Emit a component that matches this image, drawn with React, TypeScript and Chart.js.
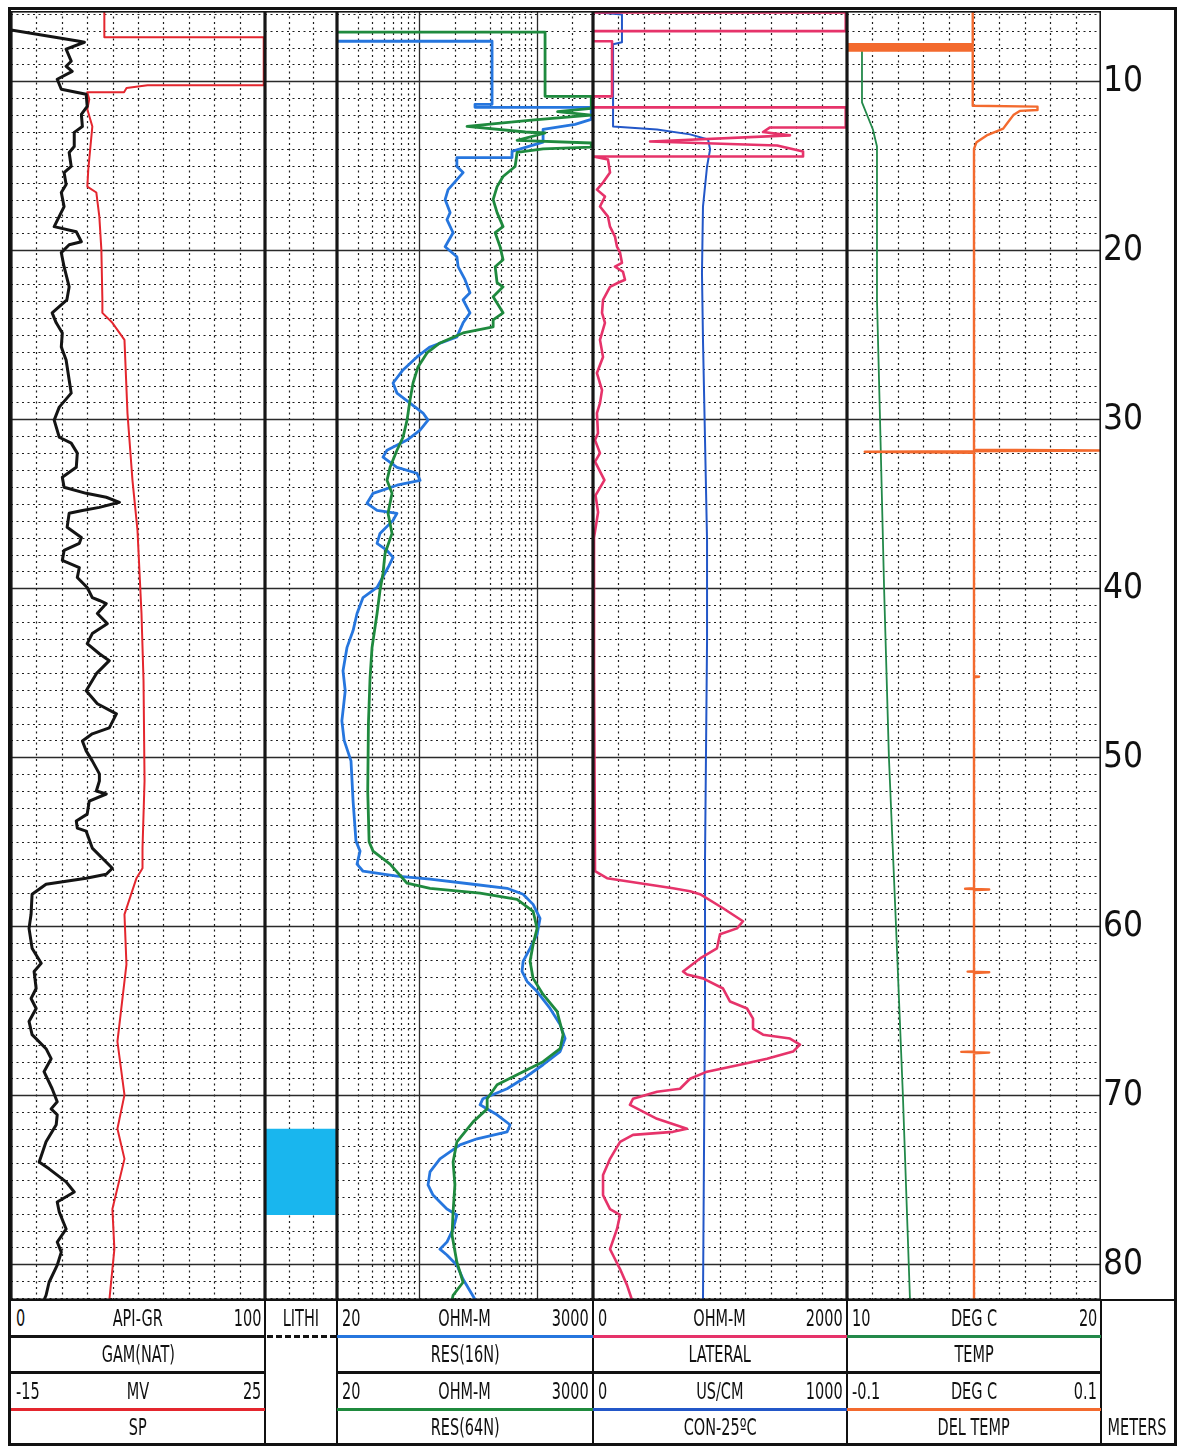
import React, { useEffect, useRef } from 'react';
import { Chart, registerables } from 'chart.js';

Chart.register(...registerables);

const NARROW = "'Liberation Sans Narrow', 'DejaVu Sans Condensed', 'Arial Narrow', sans-serif";

// ---------- depth axis ----------
const DEPTH_TOP = 5.84;
const DEPTH_BOTTOM = 82.11;
const DEPTH_LABELS = [10, 20, 30, 40, 50, 60, 70, 80];

// ---------- track ranges ----------
const GR_RANGE = [0, 100];
const SP_RANGE = [-15, 25];
const RES_RANGE = [20, 3000];
const LAT_RANGE = [0, 2000];
const CON_RANGE = [0, 1000];
const TEMP_RANGE = [10, 20];
const DTEMP_RANGE = [-0.1, 0.1];

// ---------- grid values ----------
const GR_GRID = [10, 20, 30, 40, 50, 60, 70, 80, 90];
const RES_GRID_MINOR = [30, 40, 50, 60, 70, 80, 90, 200, 300, 400, 500, 600, 700, 800, 900, 2000];
const RES_GRID_MAJOR = [100, 1000];
const LAT_GRID = [200, 400, 600, 800, 1000, 1200, 1400, 1600, 1800];
const TEMP_GRID = [11, 12, 13, 14, 15, 16, 17, 18, 19];
const LITH_GRID_FRACTIONS = [1 / 3, 2 / 3];

// ---------- curves: [depth m, value] ----------
const GR_CURVE = [
  [6.97, 0], [7.63, 26.9], [7.69, 28.9], [8.1, 21.7], [8.81, 23.7], [9.11, 21.7], [9.41, 24.1], [9.88, 18.2],
  [10.47, 19.8], [10.77, 29.6], [11.48, 30.0], [11.96, 27.7], [12.67, 28.1], [13.02, 24.9], [13.86, 24.9],
  [14.21, 22.9], [15.04, 23.7], [15.4, 20.9], [16.11, 21.7], [16.58, 19.8], [17.41, 20.9], [18.6, 17.0],
  [18.9, 25.7], [19.49, 27.7], [19.67, 22.9], [20.14, 19.8], [20.97, 20.9], [22.16, 22.9], [22.93, 22.0],
  [23.7, 16.2], [24.29, 17.8], [24.89, 20.2], [25.72, 19.8], [26.49, 21.7], [27.67, 22.9], [28.45, 23.7],
  [29.28, 19.0], [30.05, 17.0], [31.06, 19.0], [31.41, 23.7], [32.0, 26.1], [32.84, 25.7], [33.43, 20.2],
  [34.02, 20.9], [34.38, 29.6], [34.61, 37.5], [34.91, 42.7], [35.21, 34.8], [35.39, 28.1], [35.56, 22.9],
  [36.39, 22.1], [36.99, 27.7], [37.34, 26.9], [37.76, 20.9], [38.35, 20.2], [38.77, 26.9], [39.36, 26.1],
  [39.95, 30.0], [40.55, 32.0], [40.72, 34.8], [40.9, 37.5], [41.49, 34.0], [42.09, 37.9], [42.68, 32.0],
  [43.27, 30.0], [43.87, 34.8], [44.28, 38.7], [45.05, 33.6], [46.06, 29.6], [46.83, 34.0], [47.43, 41.5],
  [48.26, 38.7], [48.61, 32.0], [49.03, 28.1], [49.62, 29.6], [50.21, 32.0], [50.98, 34.8], [51.4, 34.8],
  [51.99, 33.6], [52.17, 37.5], [52.59, 30.8], [53.36, 30.0], [53.77, 25.7], [54.19, 26.1], [54.37, 29.6],
  [55.37, 32.0], [56.56, 39.9], [56.92, 37.5], [57.15, 29.6], [57.51, 13.8], [58.1, 8.3], [59.29, 7.9],
  [60.12, 7.1], [61.3, 8.3], [62.19, 11.9], [62.67, 9.1], [63.68, 9.9], [64.27, 7.9], [64.86, 9.9],
  [65.63, 7.1], [66.41, 8.3], [67.24, 13.8], [67.83, 15.8], [68.6, 13.0], [69.61, 16.2], [70.38, 18.2],
  [70.8, 15.8], [71.15, 18.2], [71.74, 17.8], [72.75, 13.8], [73.94, 11.1], [74.35, 15.0], [75.12, 21.7],
  [75.72, 24.9], [76.31, 18.2], [76.9, 19.0], [77.91, 21.7], [78.68, 18.2], [79.28, 19.8], [80.05, 18.2],
  [81.06, 15.0], [81.83, 13.8], [82.11, 13.0],
];

const SP_CURVE = [
  [5.84, -0.3], [7.39, -0.3], [7.39, 24.8], [10.24, 24.8], [10.24, 6.5], [10.4, 3.2], [10.65, 2.8],
  [10.65, -3.0], [11.07, -2.67], [11.66, -2.98], [12.67, -2.19], [15.22, -2.83], [16.23, -2.98],
  [16.58, -1.56], [18.01, -1.09], [19.96, -0.77], [22.93, -0.61], [23.7, -0.61], [24.29, 0.97],
  [25.3, 2.87], [29.63, 3.34], [33.61, 4.13], [36.57, 4.92], [41.49, 5.55], [45.47, 5.87], [51.4, 6.03],
  [55.37, 5.71], [56.56, 5.71], [57.15, 4.76], [59.29, 2.87], [62.25, 3.18], [66.82, 1.76], [69.97, 2.87],
  [71.98, 1.76], [73.76, 2.87], [76.73, 0.97], [79.1, 1.28], [82.11, 0.49],
];

const RES16_CURVE = [
  [7.63, 20], [7.63, 416], [11.36, 416], [11.36, 298], [11.54, 298], [11.54, 2900], [12.25, 2900],
  [12.55, 2113], [12.85, 1129], [13.6, 1129], [14.15, 615], [14.51, 615], [14.51, 209], [15.04, 209],
  [15.4, 236], [16.41, 176], [17.0, 166], [17.77, 183], [18.19, 172], [18.96, 194], [19.79, 166],
  [20.38, 209], [20.97, 214], [21.74, 245], [22.51, 270], [22.93, 236], [23.7, 270], [24.29, 236],
  [25.12, 209], [25.72, 123.5], [26.31, 95.7], [27.08, 72.8], [27.85, 59.9], [28.45, 64.7], [29.04, 83.5],
  [29.63, 107.7], [30.05, 118.8], [30.64, 101.6], [31.23, 78.8], [31.83, 53.2], [32.24, 49.2],
  [32.84, 64.7], [33.19, 95.7], [33.61, 101.6], [33.9, 64.7], [34.38, 40.5], [34.97, 36.0], [35.39, 43.8],
  [35.56, 64.7], [35.98, 59.9], [36.75, 46.4], [37.34, 43.8], [37.76, 53.2], [38.17, 59.9], [38.77, 54.3],
  [39.95, 43.8], [40.55, 33.3], [41.49, 29.6], [42.5, 27.4], [43.51, 24.3], [44.88, 22.5], [46.06, 23.5],
  [47.84, 22.0], [49.0, 23.0], [50.21, 26.3], [52.59, 27.4], [54.96, 29.0], [55.55, 31.4], [56.32, 29.6],
  [56.74, 33.3], [57.03, 64.7], [57.21, 123.5], [57.51, 287], [57.75, 558], [58.1, 764], [58.7, 929],
  [59.53, 1064], [60.47, 1004], [61.3, 875], [62.07, 764], [62.67, 748], [63.26, 826], [63.86, 1004],
  [64.86, 1295], [65.81, 1575], [66.64, 1738], [67.41, 1575], [68.19, 1129], [69.02, 764], [69.61, 558],
  [70.2, 348], [70.56, 329], [71.15, 459], [71.74, 592], [72.16, 558], [72.57, 310], [72.93, 222],
  [73.76, 150], [74.53, 123.5], [75.3, 118.8], [75.9, 131], [76.73, 172], [77.08, 209], [77.91, 194],
  [78.68, 172], [79.1, 150], [79.45, 172], [80.05, 209], [80.88, 236], [82.11, 300],
];

const RES64_CURVE = [
  [7.09, 20], [7.09, 1174], [10.89, 1174], [10.89, 2900], [11.6, 2900], [11.8, 1500], [12.0, 2900],
  [12.3, 900], [12.67, 255], [13.0, 800], [13.06, 1174], [13.5, 680], [13.65, 2900], [13.9, 2900],
  [14.0, 1129], [14.21, 679], [15.04, 653], [15.63, 516], [16.23, 459], [17.0, 425], [17.77, 459],
  [18.6, 516], [18.96, 442], [19.79, 487], [20.56, 516], [20.97, 442], [21.92, 459], [22.16, 516],
  [22.75, 425], [23.7, 516], [24.12, 425], [24.53, 425], [24.89, 236], [25.48, 150], [26.07, 116.4],
  [26.9, 97.6], [27.85, 88.6], [28.86, 83.5], [30.05, 78.8], [31.06, 72.8], [31.83, 64.7], [32.84, 56.5],
  [33.61, 53.2], [34.38, 58.7], [35.56, 54.3], [36.75, 58.7], [37.94, 51.2], [39.12, 49.2], [40.13, 46.4],
  [41.49, 43.8], [43.51, 39.7], [45.29, 38.2], [48.0, 37.0], [52.0, 36.5], [55.0, 37.5], [55.55, 40.5],
  [56.32, 56.5], [57.45, 78.8], [57.75, 123.5], [58.04, 329], [58.4, 679], [59.11, 929], [60.12, 1004],
  [61.07, 929], [62.07, 875], [63.08, 929], [64.03, 1129], [65.04, 1486], [66.41, 1671], [67.24, 1575],
  [68.01, 1129], [68.78, 679], [69.37, 459], [70.2, 378], [70.8, 378], [71.57, 287], [72.75, 209],
  [73.94, 194], [75.3, 201], [76.9, 194], [78.27, 190], [79.87, 209], [81.06, 236], [81.83, 194],
  [82.11, 190],
];

const LAT_CURVE = [
  [5.92, 0], [5.92, 1990], [7.03, 1990], [7.03, 0], [7.63, 0], [7.63, 150], [10.89, 150], [10.89, 0],
  [11.54, 0], [11.54, 1990], [12.73, 1990], [12.73, 1394], [13.0, 1339], [13.2, 1551], [13.56, 449],
  [13.8, 1450], [14.15, 1654], [14.45, 1654], [14.45, 0], [14.63, 118], [15.4, 134], [15.99, 79],
  [16.41, 31], [16.82, 94], [17.41, 55], [18.01, 118], [18.6, 134], [19.19, 173], [19.79, 189],
  [20.14, 213], [20.74, 228], [20.97, 173], [21.27, 236], [21.74, 252], [21.92, 197], [22.16, 134],
  [22.93, 79], [23.7, 71], [24.29, 94], [25.3, 55], [26.31, 79], [27.26, 31], [28.27, 71], [29.04, 55],
  [29.63, 31], [30.82, 39], [31.23, 16], [32.0, 55], [32.5, 16], [33.6, 90], [34.5, 20], [35.5, 40],
  [37.0, 8], [45.0, 8], [56.74, 16], [57.15, 110], [57.45, 370], [57.75, 630], [57.92, 764], [58.1, 843],
  [58.93, 1024], [59.7, 1181], [60.12, 1134], [60.47, 1000], [61.3, 976], [61.9, 843], [62.67, 709],
  [62.85, 740], [63.08, 866], [63.68, 1024], [64.45, 1079], [64.86, 1213], [65.46, 1260], [66.05, 1260],
  [66.41, 1339], [66.64, 1551], [67.0, 1630], [67.41, 1575], [67.83, 1370], [68.19, 1157], [68.6, 898],
  [69.02, 764], [69.61, 685], [69.79, 504], [70.2, 315], [70.56, 291], [71.39, 504], [71.98, 740],
  [72.16, 630], [72.34, 315], [72.75, 213], [73.76, 134], [74.71, 79], [75.9, 79], [76.73, 134],
  [77.08, 213], [77.91, 189], [79.1, 134], [79.45, 157], [80.28, 213], [81.23, 268], [82.11, 307],
];

const CON_CURVE = [
  [5.9, 0], [6.05, 114], [7.69, 114], [7.81, 79], [12.67, 79], [12.85, 252], [13.14, 382], [13.44, 453],
  [14.03, 461], [15.04, 449], [17.41, 433], [21.33, 429], [25.3, 433], [31.23, 441], [37.17, 449],
  [43.1, 449], [55.97, 441], [64.45, 441], [82.11, 433],
];

const TEMP_CURVE = [
  [5.84, 10.0], [7.92, 10.0], [7.92, 10.59], [11.25, 10.59], [12.85, 11.02], [13.86, 11.18],
  [22.93, 11.18], [30.0, 11.3], [40.0, 11.46], [50.0, 11.65], [60.0, 11.93], [70.0, 12.2], [82.11, 12.48],
];

const DTEMP_CURVE = [
  [5.84, -0.001], [7.8, -0.001], [7.8, -0.12], [7.88, -0.12], [7.88, -0.001], [7.96, -0.001],
  [7.96, -0.12], [8.04, -0.12], [8.04, -0.001], [8.12, -0.001], [8.12, -0.12], [8.18, -0.12],
  [8.18, -0.001], [11.45, -0.001], [11.5, 0.05], [11.7, 0.05], [11.75, 0.036], [12.0, 0.031],
  [12.5, 0.026], [12.8, 0.023], [13.2, 0.01], [13.6, 0.002], [14.0, 0.0], [31.8, 0.0], [31.85, 0.11],
  [31.92, -0.086], [31.98, 0.0], [45.2, 0.0], [45.23, 0.004], [45.26, 0.0], [57.75, 0.0], [57.78, -0.007],
  [57.82, 0.012], [57.86, 0.0], [62.65, 0.0], [62.68, -0.005], [62.72, 0.012], [62.76, 0.0], [67.4, 0.0],
  [67.43, -0.01], [67.47, 0.012], [67.51, 0.0], [82.11, 0.0],
];

const LITH_INTERVALS = [[72.0, 77.06]];

// ---------- colours ----------
const C_GR = '#141414';
const C_SP = '#e4262e';
const C_R16 = '#2676de';
const C_R64 = '#1f8a3e';
const C_LAT = '#e6336a';
const C_CON = '#2357c8';
const C_TEMP = '#23894a';
const C_DT = '#f36a2e';
const C_LITH = '#19b6ee';

// ---------- layout ----------
const PLOT_TOP = 11;
const PLOT_BOTTOM = 1300;
const PLOT_H = PLOT_BOTTOM - PLOT_TOP;
const DEPTH_COL_W = 73;

const gridPlugin = {
  id: 'trackGrid',
  beforeDatasetsDraw(chart: any, _a: any, opts: any) {
    const { ctx, chartArea: a } = chart;
    const ys = chart.scales.y;
    const xs = opts.xScale ? chart.scales[opts.xScale] : null;
    const vx = (v: number) => Math.round(xs.getPixelForValue(v)) + 0.5;
    const fx = (f: number) => Math.round(a.left + (a.right - a.left) * f) + 0.5;
    ctx.save();
    ctx.beginPath();
    ctx.rect(a.left, a.top, a.right - a.left, a.bottom - a.top);
    ctx.clip();
    const hLine = (d: number) => {
      const p = Math.round(ys.getPixelForValue(d)) + 0.5;
      ctx.beginPath();
      ctx.moveTo(a.left, p);
      ctx.lineTo(a.right, p);
      ctx.stroke();
    };
    const vLine = (p: number) => {
      ctx.beginPath();
      ctx.moveTo(p, a.top);
      ctx.lineTo(p, a.bottom);
      ctx.stroke();
    };
    const d0 = Math.ceil(ys.min);
    const d1 = Math.floor(ys.max);
    ctx.strokeStyle = '#1e1e1e';
    ctx.lineWidth = 1.2;
    ctx.setLineDash([2, 3.5]);
    for (let d = d0; d <= d1; d += 1) if (d % 10 !== 0) hLine(d);
    (opts.minor || []).forEach((v: number) => vLine(vx(v)));
    (opts.fractions || []).forEach((f: number) => vLine(fx(f)));
    ctx.setLineDash([]);
    ctx.strokeStyle = '#2a2a2a';
    ctx.lineWidth = 1.3;
    for (let d = d0; d <= d1; d += 1) if (d % 10 === 0) hLine(d);
    (opts.major || []).forEach((v: number) => vLine(vx(v)));
    ctx.restore();
  },
  afterDatasetsDraw(chart: any) {
    const { ctx, chartArea: a } = chart;
    ctx.save();
    ctx.strokeStyle = '#161616';
    ctx.lineWidth = 1.6;
    ctx.strokeRect(a.left + 0.8, a.top + 0.8, a.right - a.left - 1.6, a.bottom - a.top - 1.6);
    ctx.restore();
  },
};

const curve = (pts: number[][], color: string, width: number, axis: string) => ({
  data: pts.map(([d, v]) => ({ x: v, y: d })),
  xAxisID: axis,
  yAxisID: 'y',
  showLine: true,
  borderColor: color,
  backgroundColor: color,
  borderWidth: width,
  pointRadius: 0,
  pointHoverRadius: 0,
  tension: 0,
  fill: false,
  borderJoinStyle: 'round',
  borderCapStyle: 'round',
});

const hiddenX = (r: number[], type = 'linear') => ({ type, min: r[0], max: r[1], display: false });
const depthY = () => ({ type: 'linear', reverse: true, min: DEPTH_TOP, max: DEPTH_BOTTOM, display: false });

const baseConfig = (type: string, data: any, scales: any, grid: any) => ({
  type,
  data,
  options: {
    responsive: false,
    maintainAspectRatio: false,
    animation: false,
    events: [],
    layout: { padding: 0 },
    plugins: { legend: { display: false }, tooltip: { enabled: false }, trackGrid: grid },
    scales,
  },
  plugins: [gridPlugin],
});

const makeGR = () =>
  baseConfig(
    'scatter',
    { datasets: [curve(GR_CURVE, C_GR, 3, 'xGR'), curve(SP_CURVE, C_SP, 2, 'xSP')] },
    { xGR: hiddenX(GR_RANGE), xSP: hiddenX(SP_RANGE), y: depthY() },
    { xScale: 'xGR', minor: GR_GRID },
  );

const makeLith = () =>
  baseConfig(
    'bar',
    {
      labels: ['LITHI'],
      datasets: LITH_INTERVALS.map((iv) => ({
        data: [iv],
        backgroundColor: C_LITH,
        borderWidth: 0,
        barPercentage: 1,
        categoryPercentage: 1,
        grouped: false,
      })),
    },
    { x: { type: 'category', display: false }, y: depthY() },
    { fractions: LITH_GRID_FRACTIONS },
  );

const makeRes = () =>
  baseConfig(
    'scatter',
    { datasets: [curve(RES64_CURVE, C_R64, 2.8, 'xR64'), curve(RES16_CURVE, C_R16, 2.8, 'xR16')] },
    { xR16: hiddenX(RES_RANGE, 'logarithmic'), xR64: hiddenX(RES_RANGE, 'logarithmic'), y: depthY() },
    { xScale: 'xR16', minor: RES_GRID_MINOR, major: RES_GRID_MAJOR },
  );

const makeLat = () =>
  baseConfig(
    'scatter',
    { datasets: [curve(LAT_CURVE, C_LAT, 2.6, 'xLAT'), curve(CON_CURVE, C_CON, 2, 'xCON')] },
    { xLAT: hiddenX(LAT_RANGE), xCON: hiddenX(CON_RANGE), y: depthY() },
    { xScale: 'xLAT', minor: LAT_GRID },
  );

const makeTemp = () =>
  baseConfig(
    'scatter',
    { datasets: [curve(DTEMP_CURVE, C_DT, 2.4, 'xDT'), curve(TEMP_CURVE, C_TEMP, 1.8, 'xTEMP')] },
    {
      xTEMP: hiddenX(TEMP_RANGE),
      xDT: hiddenX(DTEMP_RANGE),
      y: {
        type: 'linear',
        reverse: true,
        min: DEPTH_TOP,
        max: DEPTH_BOTTOM,
        position: 'right',
        display: true,
        grid: { display: false, drawTicks: false },
        border: { display: false },
        afterBuildTicks: (s: any) => {
          s.ticks = DEPTH_LABELS.map((v) => ({ value: v }));
        },
        afterFit: (s: any) => {
          s.width = DEPTH_COL_W;
          s.paddingTop = 0;
          s.paddingBottom = 0;
        },
        ticks: {
          color: '#111',
          padding: 2,
          autoSkip: false,
          labelOffset: 1,
          font: { family: NARROW, size: 35 },
          callback: (v: any) => String(v),
        },
      },
    },
    { xScale: 'xTEMP', minor: TEMP_GRID },
  );

function ChartBox({ left, width, make }: { left: number; width: number; make: () => any }) {
  const ref = useRef<HTMLCanvasElement>(null);
  useEffect(() => {
    const chart = new Chart(ref.current as HTMLCanvasElement, make() as any);
    return () => chart.destroy();
  }, []);
  return (
    <canvas
      ref={ref}
      width={width}
      height={PLOT_H}
      style={{ position: 'absolute', left, top: PLOT_TOP, width, height: PLOT_H, display: 'block' }}
    />
  );
}

// ---------- header ----------
const ROW1 = [1301, 1335];
const ROW2 = [1338, 1371];
const ROW3 = [1374, 1408];
const ROW4 = [1411, 1444];

const HEADER_COLS = [
  { l: 11, r: 265, top: ['0', 'API-GR', '100'], c1: C_GR, n1: 'GAM(NAT)', bot: ['-15', 'MV', '25'], c3: C_SP, n3: 'SP' },
  { l: 265, r: 337, lith: 'LITHI' },
  { l: 337, r: 593, top: ['20', 'OHM-M', '3000'], c1: C_R16, n1: 'RES(16N)', bot: ['20', 'OHM-M', '3000'], c3: C_R64, n3: 'RES(64N)' },
  { l: 593, r: 847, top: ['0', 'OHM-M', '2000'], c1: C_LAT, n1: 'LATERAL', bot: ['0', 'US/CM', '1000'], c3: C_CON, n3: 'CON-25ºC' },
  { l: 847, r: 1101, top: ['10', 'DEG C', '20'], c1: C_TEMP, n1: 'TEMP', bot: ['-0.1', 'DEG C', '0.1'], c3: C_DT, n3: 'DEL TEMP' },
];

function Txt({ x, w, row, align, children }: any) {
  const jc = align === 'left' ? 'flex-start' : align === 'right' ? 'flex-end' : 'center';
  const origin = align === 'left' ? 'left center' : align === 'right' ? 'right center' : 'center center';
  return (
    <div
      style={{
        position: 'absolute',
        left: x,
        width: w,
        top: row[0],
        height: row[1] - row[0],
        display: 'flex',
        alignItems: 'center',
        justifyContent: jc,
      }}
    >
      <span
        style={{
          fontFamily: NARROW,
          fontSize: 23,
          lineHeight: 1,
          color: '#111',
          whiteSpace: 'nowrap',
          transform: 'scaleX(0.7)',
          transformOrigin: origin,
          display: 'inline-block',
        }}
      >
        {children}
      </span>
    </div>
  );
}

function HLine({ l, r, y, h = 3, color = '#111', dashed = false }: any) {
  return (
    <div
      style={{
        position: 'absolute',
        left: l,
        width: r - l,
        top: y,
        height: dashed ? 0 : h,
        background: dashed ? 'transparent' : color,
        borderTop: dashed ? `${h}px dashed ${color}` : 'none',
      }}
    />
  );
}

function Header() {
  const items: any[] = [];
  HEADER_COLS.forEach((c: any, i: number) => {
    const w = c.r - c.l;
    if (c.lith) {
      items.push(<Txt key={`l${i}`} x={c.l} w={w} row={ROW1} align="center">{c.lith}</Txt>);
      items.push(<HLine key={`ld${i}`} l={c.l + 2} r={c.r - 1} y={1335} h={3} dashed />);
      return;
    }
    items.push(<Txt key={`a${i}`} x={c.l + 5} w={w - 10} row={ROW1} align="left">{c.top[0]}</Txt>);
    items.push(<Txt key={`b${i}`} x={c.l} w={w} row={ROW1} align="center">{c.top[1]}</Txt>);
    items.push(<Txt key={`c${i}`} x={c.l + 5} w={w - 9} row={ROW1} align="right">{c.top[2]}</Txt>);
    items.push(<HLine key={`d${i}`} l={c.l} r={c.r} y={1335} color={c.c1} />);
    items.push(<Txt key={`e${i}`} x={c.l} w={w} row={ROW2} align="center">{c.n1}</Txt>);
    items.push(<HLine key={`f${i}`} l={c.l} r={c.r} y={1371} color="#111" />);
    items.push(<Txt key={`g${i}`} x={c.l + 5} w={w - 10} row={ROW3} align="left">{c.bot[0]}</Txt>);
    items.push(<Txt key={`h${i}`} x={c.l} w={w} row={ROW3} align="center">{c.bot[1]}</Txt>);
    items.push(<Txt key={`k${i}`} x={c.l + 5} w={w - 9} row={ROW3} align="right">{c.bot[2]}</Txt>);
    items.push(<HLine key={`m${i}`} l={c.l} r={c.r} y={1408} color={c.c3} />);
    items.push(<Txt key={`n${i}`} x={c.l} w={w} row={ROW4} align="center">{c.n3}</Txt>);
  });
  const seps = [265, 337, 593, 847, 1101];
  return (
    <>
      <HLine l={11} r={1174} y={1299} h={2} color="#111" />
      {seps.map((x) => (
        <div key={`s${x}`} style={{ position: 'absolute', left: x - 1, top: 1300, width: 1.5, height: 144, background: '#111' }} />
      ))}
      {items}
      <Txt x={1101} w={73} row={ROW4} align="center">METERS</Txt>
    </>
  );
}

export default function App() {
  return (
    <div style={{ position: 'fixed', left: 0, top: 0, width: 1180, height: 1448, background: '#fff', overflow: 'hidden' }}>
      <ChartBox left={11} width={254} make={makeGR} />
      <ChartBox left={265} width={72} make={makeLith} />
      <ChartBox left={337} width={256} make={makeRes} />
      <ChartBox left={593} width={254} make={makeLat} />
      <ChartBox left={847} width={254 + DEPTH_COL_W} make={makeTemp} />
      <Header />
      <div
        style={{
          position: 'absolute',
          left: 8,
          top: 7,
          width: 1169,
          height: 1439,
          border: '3px solid #111',
          boxSizing: 'border-box',
          pointerEvents: 'none',
        }}
      />
    </div>
  );
}
